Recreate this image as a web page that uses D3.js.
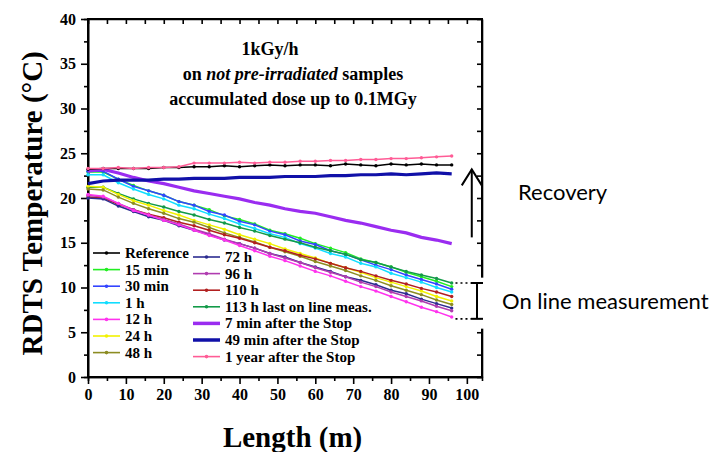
<!DOCTYPE html>
<html>
<meta charset="utf-8">
<style>
body { margin: 0; background: #fff; }
svg text { font-family: "Liberation Serif", "Times New Roman", serif; font-weight: bold; fill: #000; }
.axis path, .axis line { stroke: #000; stroke-width: 1.6; }
.axis text { font-size: 16px; font-family: "Liberation Serif", "Times New Roman", serif; font-weight: bold; }
.note { font-family: Lato, "Open Sans", sans-serif !important; font-weight: normal !important; }
</style>
<body>
<svg width="713" height="452"></svg>
<script src="https://d3js.org/d3.v7.min.js"></script>
<script>
// cable length positions (m)
var lengthM = [0, 4, 8, 12, 16, 20, 24, 28, 32, 36, 40, 44, 48, 52, 56, 60, 64, 68, 72, 76, 80, 84, 88, 92, 96];

// temperatures (°C) per measurement
var refT    = [23.2, 23.3, 23.3, 23.3, 23.3, 23.4, 23.4, 23.5, 23.5, 23.6, 23.5, 23.6, 23.7, 23.6, 23.7, 23.7, 23.6, 23.8, 23.7, 23.6, 23.8, 23.7, 23.8, 23.7, 23.7];
var min15T  = [22.9, 22.9, 22.1, 21.4, 20.8, 20.3, 19.6, 19.2, 18.7, 18.0, 17.6, 17.1, 16.4, 16.0, 15.5, 14.9, 14.4, 13.9, 13.2, 12.8, 12.3, 11.7, 11.2, 10.7, 10.1];
var min30T  = [23.0, 23.0, 22.1, 21.3, 20.8, 20.3, 19.6, 19.2, 18.5, 18.1, 17.4, 17.0, 16.3, 15.9, 15.2, 14.8, 14.1, 13.7, 13.1, 12.5, 12.0, 11.4, 10.9, 10.4, 9.8];
var h1T     = [22.6, 22.6, 21.7, 21.0, 20.4, 19.9, 19.2, 18.8, 18.2, 17.7, 17.1, 16.6, 16.0, 15.6, 14.9, 14.4, 13.8, 13.4, 12.7, 12.3, 11.6, 11.1, 10.6, 10.0, 9.5];
var h12T    = [20.4, 20.2, 19.4, 18.6, 18.1, 17.5, 17.0, 16.4, 15.8, 15.3, 14.7, 14.1, 13.5, 13.0, 12.4, 11.8, 11.3, 10.7, 10.1, 9.6, 9.0, 8.4, 7.8, 7.3, 6.7];
var h24T    = [21.3, 21.2, 20.4, 19.7, 19.2, 18.6, 18.1, 17.5, 17.0, 16.5, 15.9, 15.4, 14.9, 14.3, 13.8, 13.3, 12.7, 12.2, 11.7, 11.1, 10.6, 10.1, 9.6, 9.0, 8.5];
var h48T    = [21.0, 20.9, 20.1, 19.4, 18.8, 18.3, 17.7, 17.3, 16.7, 16.1, 15.6, 15.1, 14.5, 14.0, 13.5, 12.9, 12.4, 11.9, 11.3, 10.8, 10.2, 9.7, 9.2, 8.6, 8.1];
var h72T    = [20.0, 19.9, 19.1, 18.5, 17.9, 17.5, 16.9, 16.4, 15.9, 15.3, 14.9, 14.4, 13.8, 13.4, 12.8, 12.3, 11.8, 11.2, 10.8, 10.3, 9.7, 9.3, 8.7, 8.2, 7.7];
var h96T    = [20.3, 20.1, 19.4, 18.7, 18.1, 17.6, 17.1, 16.5, 16.0, 15.4, 14.9, 14.4, 13.8, 13.3, 12.8, 12.2, 11.7, 11.2, 10.6, 10.1, 9.5, 9.0, 8.5, 7.9, 7.4];
var h110T   = [20.1, 20.0, 19.3, 18.7, 18.2, 17.8, 17.3, 16.9, 16.4, 15.9, 15.5, 15.0, 14.5, 14.1, 13.6, 13.2, 12.7, 12.2, 11.8, 11.3, 10.8, 10.4, 9.9, 9.5, 9.0];
var h113T   = [21.2, 21.2, 20.5, 19.9, 19.4, 19.0, 18.5, 18.1, 17.6, 17.2, 16.7, 16.3, 15.8, 15.4, 15.0, 14.5, 14.1, 13.7, 13.1, 12.8, 12.3, 11.8, 11.4, 11.0, 10.5];
var stop7T  = [23.0, 23.2, 22.8, 22.3, 21.9, 21.6, 21.2, 20.8, 20.5, 20.2, 19.9, 19.5, 19.2, 18.8, 18.5, 18.3, 17.9, 17.5, 17.2, 16.8, 16.4, 16.1, 15.6, 15.3, 14.9];
var stop49T = [21.6, 21.9, 22.0, 22.0, 22.0, 22.1, 22.1, 22.2, 22.2, 22.2, 22.3, 22.3, 22.3, 22.4, 22.4, 22.4, 22.5, 22.5, 22.6, 22.6, 22.7, 22.6, 22.7, 22.8, 22.7];
var year1T  = [23.3, 23.3, 23.4, 23.3, 23.4, 23.4, 23.5, 23.9, 23.9, 23.9, 24.0, 23.9, 24.0, 24.0, 24.1, 24.1, 24.2, 24.2, 24.3, 24.3, 24.4, 24.4, 24.5, 24.6, 24.7];

var names  = ["Reference", "15 min", "30 min", "1 h", "12 h", "24 h", "48 h",
              "72 h", "96 h", "110 h", "113 h last on line meas.",
              "7 min after the Stop", "49 min after the Stop", "1 year after the Stop"];
var colors = ["#000000", "#22ee22", "#3344ff", "#11ddff", "#ff33ee", "#f2f200", "#8c8c22",
              "#2c2c90", "#b03cb0", "#b22020", "#139a48",
              "#9a2cf0", "#1010a8", "#ff5c96"];
var values = [refT, min15T, min30T, h1T, h12T, h24T, h48T,
              h72T, h96T, h110T, h113T, stop7T, stop49T, year1T];
var thick  = [false, false, false, false, false, false, false,
              false, false, false, false, true, true, false];

var yTicks = [0, 5, 10, 15, 20, 25, 30, 35, 40];
var xTicks = [0, 10, 20, 30, 40, 50, 60, 70, 80, 90, 100];

var svg = d3.select("svg"),
    margin = {top: 19, right: 231, bottom: 75, left: 88},
    width = +svg.attr("width") - margin.left - margin.right,
    height = +svg.attr("height") - margin.top - margin.bottom;

var x = d3.scaleLinear().domain([0, 104]).range([0, width]),
    y = d3.scaleLinear().domain([0, 40]).range([height, 0]);

var g = svg.append("g")
    .attr("transform", "translate(" + margin.left + "," + margin.top + ")");

// frame
g.append("rect")
    .attr("width", width).attr("height", height)
    .attr("fill", "none").attr("stroke", "#000").attr("stroke-width", 2);

// minor ticks halfway between the labelled ones
var half = function(t) { return t.slice(0, -1).map(function(v, i) { return (v + t[i + 1]) / 2; }); };

g.append("g").attr("class", "axis")
    .call(d3.axisLeft(y).tickValues(half(yTicks)).tickSize(4).tickFormat(""));
g.append("g").attr("class", "axis")
    .attr("transform", "translate(0," + height + ")")
    .call(d3.axisBottom(x).tickValues(half(xTicks)).tickSize(4).tickFormat(""));

g.append("g").attr("class", "axis")
    .call(d3.axisLeft(y).tickValues(yTicks).tickSize(7).tickSizeOuter(0).tickPadding(5));
g.append("g").attr("class", "axis")
    .attr("transform", "translate(0," + height + ")")
    .call(d3.axisBottom(x).tickValues(xTicks).tickSize(7).tickSizeOuter(0).tickPadding(5));

// inward ticks on top and right
g.append("g").attr("class", "axis")
    .call(d3.axisBottom(x).tickValues(half(xTicks).concat(xTicks)).tickSize(5).tickSizeOuter(0).tickFormat(""));
g.append("g").attr("class", "axis")
    .attr("transform", "translate(" + width + ",0)")
    .call(d3.axisLeft(y).tickValues(half(yTicks).concat(yTicks)).tickSize(5).tickSizeOuter(0).tickFormat(""));

g.selectAll(".axis .domain").attr("stroke-width", 2);

// series
var line = d3.line()
    .x(function(d, i) { return x(lengthM[i]); })
    .y(function(d) { return y(d); });

var order = [1, 2, 3, 10, 5, 6, 9, 7, 8, 4, 11, 12, 0, 13];
order.forEach(function(k) {
  g.append("path")
      .datum(values[k])
      .attr("fill", "none")
      .attr("stroke", colors[k])
      .attr("stroke-width", thick[k] ? 3.2 : 1.5)
      .attr("d", line);
  if (!thick[k]) {
    g.selectAll(null)
      .data(values[k])
      .enter().append("circle")
        .attr("cx", function(d, i) { return x(lengthM[i]); })
        .attr("cy", function(d) { return y(d); })
        .attr("r", 1.7)
        .attr("fill", colors[k]);
  }
});

// legend
var leg = g.append("g");
names.forEach(function(n, k) {
  var col = k < 7 ? 0 : 1,
      row = k < 7 ? k : k - 7,
      lx = col === 0 ? 5 : 105,
      ly = (col === 0 ? 234 : 238) + row * 16.6;
  leg.append("line")
      .attr("x1", lx).attr("x2", lx + 27)
      .attr("y1", ly).attr("y2", ly)
      .attr("stroke", colors[k])
      .attr("stroke-width", thick[k] ? 3.5 : 1.6);
  if (!thick[k]) {
    leg.append("circle").attr("cx", lx + 13.5).attr("cy", ly).attr("r", 1.8).attr("fill", colors[k]);
  }
  leg.append("text")
      .attr("x", lx + 32).attr("y", ly + 5)
      .style("font-size", "15px")
      .text(n);
});

// title block
var title = g.append("g").style("font-size", "18px").attr("text-anchor", "middle");
title.append("text").attr("x", 182).attr("y", 36).text("1kGy/h");
var t2 = title.append("text").attr("x", 205).attr("y", 61);
t2.append("tspan").text("on ");
t2.append("tspan").style("font-style", "italic").text("not pre-irradiated");
t2.append("tspan").text(" samples");
title.append("text").attr("x", 205).attr("y", 86).text("accumulated dose up to 0.1MGy");

// axis titles
svg.append("text")
    .attr("x", margin.left + x(54)).attr("y", 447)
    .attr("text-anchor", "middle")
    .style("font-size", "29px")
    .text("Length (m)");

svg.append("text")
    .attr("transform", "translate(42," + (margin.top + y(19.4)) + ") rotate(-90)")
    .attr("text-anchor", "middle")
    .style("font-size", "29px")
    .text("RDTS Temperature (°C)");

// recovery arrow
var ax = x(101.3);
g.append("line").attr("x1", ax).attr("x2", ax)
    .attr("y1", y(15.6)).attr("y2", y(23.2))
    .attr("stroke", "#000").attr("stroke-width", 2);
g.append("path")
    .attr("d", "M" + (ax - 10) + "," + (y(23.2) + 16) + "L" + ax + "," + y(23.2) + "L" + (ax + 10) + "," + (y(23.2) + 16))
    .attr("fill", "none").attr("stroke", "#000").attr("stroke-width", 2);

svg.append("text").attr("class", "note")
    .attr("x", 518).attr("y", 200)
    .style("font-size", "22px")
    .text("Recovery");

// on-line bracket
g.append("rect")
    .attr("x", width - 6).attr("y", y(11.1)).attr("width", 12).attr("height", y(5.4) - y(11.1))
    .attr("fill", "#fff");
var bx = width - 5;
[10.5, 6.5].forEach(function(v) {
  g.append("line").attr("x1", x(97)).attr("x2", bx - 6)
      .attr("y1", y(v)).attr("y2", y(v))
      .attr("stroke", "#000").attr("stroke-width", 1.6).attr("stroke-dasharray", "2,3");
  g.append("line").attr("x1", bx - 6).attr("x2", bx + 6)
      .attr("y1", y(v)).attr("y2", y(v))
      .attr("stroke", "#000").attr("stroke-width", 2);
});
g.append("line").attr("x1", bx).attr("x2", bx)
    .attr("y1", y(10.5)).attr("y2", y(6.5))
    .attr("stroke", "#000").attr("stroke-width", 2);

svg.append("text").attr("class", "note")
    .attr("x", 502).attr("y", 309)
    .style("font-size", "22px")
    .text("On line measurement");
</script>
</body>
</html>
